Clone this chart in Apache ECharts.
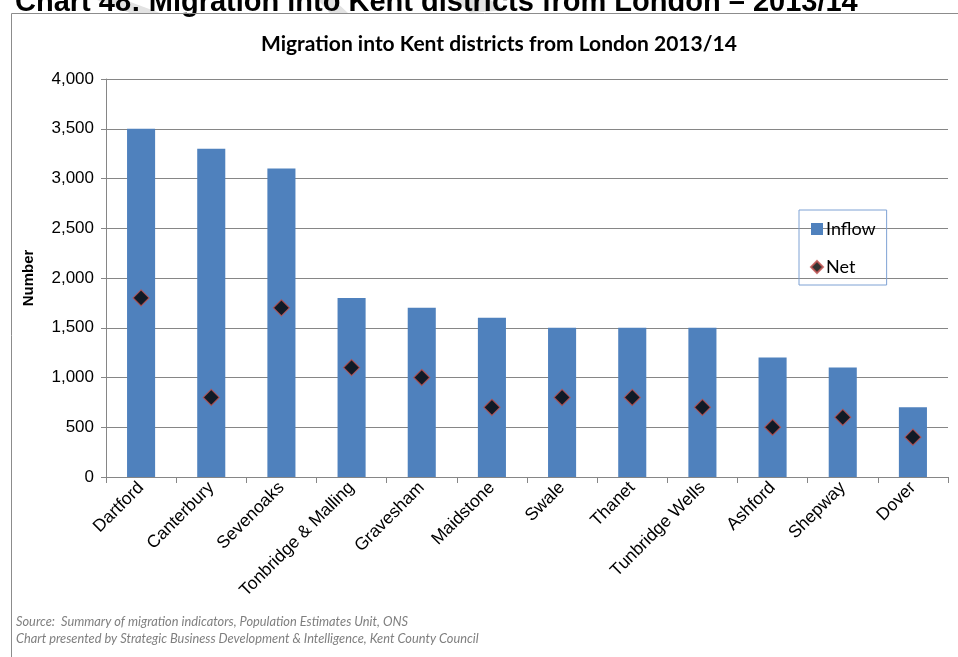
<!DOCTYPE html>
<html>
<head>
<meta charset="utf-8">
<script src="https://cdn.jsdelivr.net/npm/echarts@6/dist/echarts.min.js"></script>
<style>
  html, body { margin: 0; padding: 0; background: #fff; }
  #chart { width: 958px; height: 657px; }
</style>
</head>
<body>
<div id="chart"></div>
<script>
// Kent districts, ordered by inflow from London
const districts = ['Dartford', 'Canterbury', 'Sevenoaks', 'Tonbridge & Malling', 'Gravesham',
  'Maidstone', 'Swale', 'Thanet', 'Tunbridge Wells', 'Ashford', 'Shepway', 'Dover'];
// Gross inflow from London, 2013/14
const inflow = [3500, 3300, 3100, 1800, 1700, 1600, 1500, 1500, 1500, 1200, 1100, 700];
// Net migration from London, 2013/14
const net = [1800, 800, 1700, 1100, 1000, 700, 800, 800, 700, 500, 600, 400];
// Value axis ticks
const yTicks = { min: 0, max: 4000, step: 500 };

const chart = echarts.init(document.getElementById('chart'), null, { renderer: 'canvas' });

const fmt = v => v.toLocaleString('en-GB');
const gridColor = '#868686';

chart.setOption({
  animation: false,
  backgroundColor: '#fff',
  title: {
    text: 'Migration into Kent districts from London 2013/14',
    left: 256,
    top: 29,
    textStyle: { fontFamily: 'Lato', fontWeight: 'bold', fontSize: 21, color: '#000' }
  },
  legend: {
    orient: 'vertical',
    left: 799,
    top: 210,
    padding: [10, 11, 9, 11],
    itemGap: 20,
    itemWidth: 12,
    itemHeight: 12,
    borderColor: '#7ea2d4',
    borderWidth: 1,
    textStyle: { fontFamily: 'Lato', fontSize: 18, color: '#000', padding: [0, 0, 0, -2] },
    data: [
      { name: 'Inflow', icon: 'rect' },
      { name: 'Net', icon: 'diamond' }
    ]
  },
  grid: { left: 106, right: 10, top: 79, bottom: 180, containLabel: false },
  xAxis: {
    type: 'category',
    data: districts,
    axisLine: { lineStyle: { color: gridColor, width: 1 } },
    axisTick: { show: true, interval: 0, length: 6, lineStyle: { color: gridColor } },
    axisLabel: {
      interval: 0,
      rotate: 45,
      margin: 8,
      fontFamily: 'Liberation Sans',
      fontSize: 17.5,
      color: '#000'
    }
  },
  yAxis: {
    type: 'value',
    min: yTicks.min,
    max: yTicks.max,
    interval: yTicks.step,
    name: 'Number',
    nameLocation: 'middle',
    nameGap: 70,
    nameRotate: 90,
    nameTextStyle: { fontFamily: 'Liberation Sans', fontWeight: 'bold', fontSize: 15, color: '#000' },
    axisLine: { show: true, lineStyle: { color: gridColor, width: 1 } },
    axisTick: { show: true, length: 5, lineStyle: { color: gridColor } },
    axisLabel: {
      margin: 12,
      fontFamily: 'Liberation Sans',
      fontSize: 17,
      color: '#000',
      formatter: v => fmt(v)
    },
    splitLine: { show: true, lineStyle: { color: gridColor, width: 1 } }
  },
  series: [
    {
      name: 'Inflow',
      type: 'bar',
      data: inflow,
      barWidth: '40%',
      itemStyle: { color: '#4f81bd' }
    },
    {
      name: 'Net',
      type: 'scatter',
      data: net,
      symbol: 'diamond',
      symbolSize: 16,
      itemStyle: { color: '#000', borderColor: '#c0504d', borderWidth: 1.2 },
      z: 5
    }
  ],
  graphic: [
    // faint watermark strokes behind the page heading
    {
      type: 'polygon',
      z: 1,
      shape: { points: [[97, 0], [125, 0], [160, 13], [130, 13]] },
      style: { fill: '#e2e2e2' }
    },
    {
      type: 'polygon',
      z: 1,
      shape: { points: [[318, 0], [334, 0], [348, 13], [330, 13]] },
      style: { fill: '#e2e2e2' }
    },
    {
      type: 'polygon',
      z: 1,
      shape: { points: [[455, 0], [490, 0], [508, 10], [470, 13]] },
      style: { fill: '#e2e2e2' }
    },
    // page heading above the chart frame, cut off by the top edge
    {
      type: 'text',
      z: 2,
      left: 15,
      top: -12,
      style: {
        text: 'Chart 48: Migration into Kent districts from London \u2013 2013/14',
        font: 'bold 29px "Liberation Sans"',
        fill: '#000'
      }
    },
    // chart frame
    {
      type: 'polyline',
      z: 10,
      shape: { points: [[11.5, 657], [11.5, 13.5], [958, 13.5]] },
      style: { stroke: '#8c8c8c', lineWidth: 1, fill: null }
    },
    {
      type: 'text',
      left: 16,
      top: 613,
      style: {
        text: 'Source:  Summary of migration indicators, Population Estimates Unit, ONS\nChart presented by Strategic Business Development & Intelligence, Kent County Council',
        font: 'italic 12.8px Lato',
        lineHeight: 17,
        fill: '#7f7f7f'
      }
    }
  ]
});
</script>
</body>
</html>
